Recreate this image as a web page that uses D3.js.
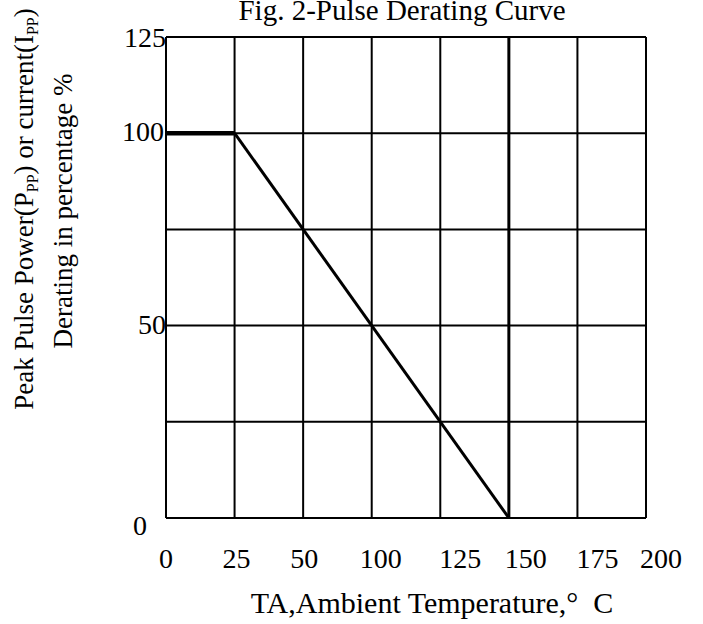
<!DOCTYPE html>
<html>
<head>
<meta charset="utf-8">
<script src="https://cdn.jsdelivr.net/npm/d3@7"></script>
<style>
  body { margin: 0; background: #fff; }
  svg { font-family: "Liberation Serif", "Times New Roman", serif; }
</style>
</head>
<body>
<div id="chart"></div>
<script>
const WIDTH = 703;
const HEIGHT = 624;
const MARGINS = { left: 166, right: 57, top: 37, bottom: 106 };

// x ticks are category-like (evenly spaced, not linear)
const X_TICKS = ["0", "25", "50", "100", "125", "150", "175", "200"];
const Y_GRID = [0, 25, 50, 75, 100, 125];
const Y_LABELS = [0, 50, 100, 125];

// derating curve
const CURVE_X = ["0", "25", "150"];
const CURVE_Y = [100, 100, 0];

// small label nudges so the text sits like the original scan
const X_LABEL_NUDGE = [0, 2, 1, 9, 20, 17, 20, 15];

const FRAME = d3.select("#chart").append("svg")
  .attr("width", WIDTH)
  .attr("height", HEIGHT);

const X_SCALE = d3.scalePoint()
  .domain(X_TICKS)
  .range([MARGINS.left, WIDTH - MARGINS.right]);

const Y_SCALE = d3.scaleLinear()
  .domain([0, 125])
  .range([HEIGHT - MARGINS.bottom, MARGINS.top]);

// grid
FRAME.append("g").selectAll("line")
  .data(X_TICKS)
  .enter()
  .append("line")
  .attr("x1", (d) => X_SCALE(d))
  .attr("x2", (d) => X_SCALE(d))
  .attr("y1", Y_SCALE(0))
  .attr("y2", Y_SCALE(125))
  .attr("stroke", "#000")
  .attr("stroke-width", (d) => (d === "150" ? 3 : 2));

FRAME.append("g").selectAll("line")
  .data(Y_GRID)
  .enter()
  .append("line")
  .attr("x1", X_SCALE.range()[0])
  .attr("x2", X_SCALE.range()[1])
  .attr("y1", (d) => Y_SCALE(d))
  .attr("y2", (d) => Y_SCALE(d))
  .attr("stroke", "#000")
  .attr("stroke-width", 2);

// curve
const points = CURVE_X.map((x, i) => [X_SCALE(x), Y_SCALE(CURVE_Y[i])]);
FRAME.append("line")
  .attr("x1", points[0][0]).attr("y1", points[0][1])
  .attr("x2", points[1][0]).attr("y2", points[1][1])
  .attr("stroke", "#000")
  .attr("stroke-width", 4.5);
FRAME.append("path")
  .datum(points.slice(1))
  .attr("d", d3.line())
  .attr("fill", "none")
  .attr("stroke", "#000")
  .attr("stroke-width", 3);

// tick labels
FRAME.append("g").selectAll("text")
  .data(Y_LABELS)
  .enter()
  .append("text")
  .attr("x", (d) => (d === 0 ? X_SCALE("0") - 19 : d === 100 ? X_SCALE("0") - 2 : X_SCALE("0")))
  .attr("y", (d) => (d === 0 ? Y_SCALE(d) + 17 : d === 125 ? Y_SCALE(d) + 10 : Y_SCALE(d) + 8))
  .attr("text-anchor", "end")
  .style("font-size", "28px")
  .text((d) => d);

FRAME.append("g").selectAll("text")
  .data(X_TICKS)
  .enter()
  .append("text")
  .attr("x", (d, i) => X_SCALE(d) + X_LABEL_NUDGE[i])
  .attr("y", 568)
  .attr("text-anchor", "middle")
  .style("font-size", "28px")
  .text((d) => d);

// titles
FRAME.append("text")
  .attr("x", 402)
  .attr("y", 20)
  .attr("text-anchor", "middle")
  .style("font-size", "29px")
  .text("Fig. 2-Pulse Derating Curve");

FRAME.append("text")
  .attr("x", 432)
  .attr("y", 613)
  .attr("text-anchor", "middle")
  .style("font-size", "30px")
  .text("TA,Ambient Temperature,\u00b0\u2002C");

const yTitle = FRAME.append("text")
  .attr("transform", "translate(33,209) rotate(-90)")
  .attr("text-anchor", "middle")
  .style("font-size", "27px");
yTitle.append("tspan").text("Peak Pulse Power(P");
yTitle.append("tspan").attr("dy", 5).style("font-size", "16px").text("PP");
yTitle.append("tspan").attr("dy", -5).text(") or current(I");
yTitle.append("tspan").attr("dy", 5).style("font-size", "16px").text("PP");
yTitle.append("tspan").attr("dy", -5).text(")");

FRAME.append("text")
  .attr("transform", "translate(72,211) rotate(-90)")
  .attr("text-anchor", "middle")
  .style("font-size", "27px")
  .text("Derating in percentage %");
</script>
</body>
</html>
